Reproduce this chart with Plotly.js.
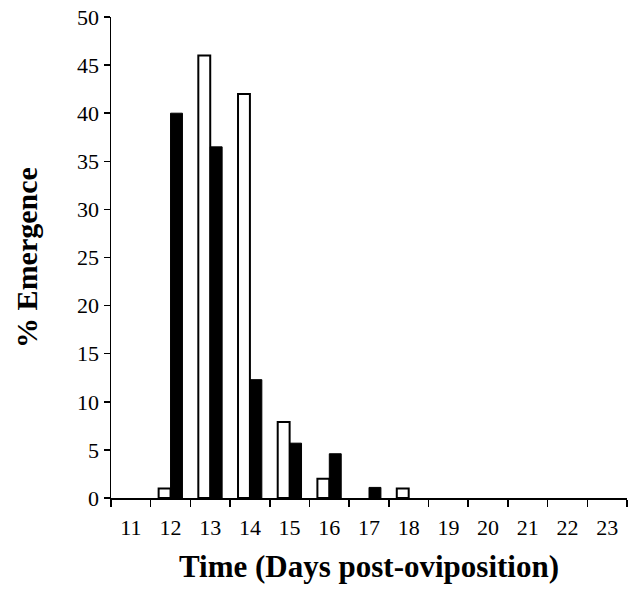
<!DOCTYPE html>
<html>
<head>
<meta charset="utf-8">
<script src="https://cdn.plot.ly/plotly-3.0.1.min.js"></script>
<style>html,body{margin:0;padding:0;background:#fff;}#chart{width:635px;height:597px;}</style>
</head>
<body>
<div id="chart"></div>
<script>
const days = ['11','12','13','14','15','16','17','18','19','20','21','22','23'];
const openValues = [0, 1, 46, 42, 7.9, 2, 0, 1, 0, 0, 0, 0, 0];
const filledValues = [0, 40, 36.5, 12.3, 5.7, 4.6, 1.1, 0, 0, 0, 0, 0, 0];
const yTicks = [0, 5, 10, 15, 20, 25, 30, 35, 40, 45, 50];

const traces = [
  {
    type: 'bar', x: days, y: openValues, name: 'Open',
    marker: {color: '#ffffff', line: {color: '#000000', width: openValues.map(v => v === 0 ? 0 : 2)}}
  },
  {
    type: 'bar', x: days, y: filledValues, name: 'Filled',
    marker: {color: '#000000', line: {color: '#000000', width: filledValues.map(v => v === 0 ? 0 : 1)}}
  }
];

const layout = {
  width: 635, height: 597,
  margin: {l: 111, r: 8, t: 17, b: 99},
  paper_bgcolor: '#ffffff', plot_bgcolor: '#ffffff',
  showlegend: false,
  barmode: 'group', bargap: 0.4, bargroupgap: 0,
  font: {family: 'Liberation Serif, Times New Roman, serif', color: '#000000', size: 20},
  xaxis: {
    type: 'category', tickson: 'boundaries',
    showline: true, linecolor: '#000000', linewidth: 1.5,
    ticks: 'outside', ticklen: 7, tickcolor: '#000000', tickwidth: 1.5,
    showgrid: false, zeroline: false,
    tickfont: {size: 22}, ticklabelstandoff: 9,
    title: {text: '<b>Time (Days post-oviposition)</b>', font: {size: 31}, standoff: 16}
  },
  yaxis: {
    range: [0, 50], tickvals: yTicks,
    showline: true, linecolor: '#000000', linewidth: 1.5,
    ticks: 'outside', ticklen: 6, tickcolor: '#000000', tickwidth: 1.5,
    showgrid: false, zeroline: false,
    tickfont: {size: 22},
    title: {text: '<b>% Emergence</b>', font: {size: 30}, standoff: 30}
  }
};

Plotly.newPlot('chart', traces, layout, {staticPlot: true, displayModeBar: false});
</script>
</body>
</html>
